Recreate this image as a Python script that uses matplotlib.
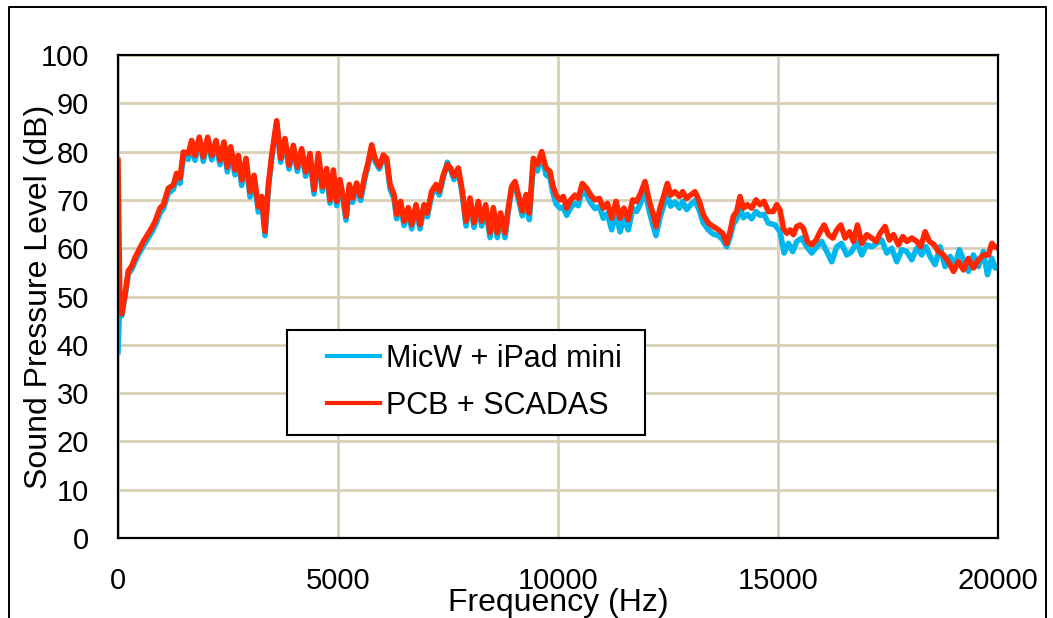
import matplotlib
matplotlib.use("Agg")
import matplotlib.pyplot as plt
from matplotlib.lines import Line2D
from matplotlib.patches import Rectangle

plt.rcParams['font.family'] = ['Liberation Sans', 'DejaVu Sans']

# ---------------- data ----------------
series_names = ["MicW + iPad mini", "PCB + SCADAS"]

pcb_freq = [0, 40, 83, 159, 235, 311, 386, 462, 576, 652,
            765, 841, 955, 1030, 1144, 1258, 1333, 1409, 1485, 1598,
            1674, 1750, 1848, 1939, 2038, 2129, 2227, 2318, 2409, 2485,
            2561, 2659, 2735, 2811, 2909, 3000, 3091, 3190, 3265, 3341,
            3417, 3493, 3606, 3697, 3795, 3886, 3985, 4076, 4174, 4265,
            4364, 4455, 4553, 4644, 4742, 4818,
            4894, 4970, 5045, 5121, 5182, 5258, 5333, 5424, 5515, 5614,
            5689, 5765, 5841, 5939, 6030, 6106, 6182, 6273, 6333, 6424,
            6500, 6598, 6674, 6773, 6864, 6955, 7030, 7129, 7227, 7303,
            7394, 7485, 7561, 7636, 7735, 7826, 7909, 8000, 8091, 8189,
            8265, 8356, 8455, 8530, 8621, 8697, 8795, 8871, 8947, 9023,
            9098, 9189, 9273, 9348, 9439, 9530, 9629, 9727, 9818,
            9879, 9955, 10045, 10121, 10197, 10288, 10386, 10462, 10553, 10652,
            10742, 10841, 10939, 11030, 11121, 11220, 11318, 11409, 11500, 11598,
            11697, 11788, 11879, 11977, 12076, 12167, 12227, 12318, 12409, 12485,
            12561, 12659, 12758, 12833, 12924, 13015, 13114, 13212, 13303, 13417,
            13530, 13644, 13742, 13833, 13909, 13985, 14061, 14136, 14212, 14303,
            14402, 14500, 14591, 14682, 14780,
            14894, 14971, 15047, 15123, 15199, 15275, 15350, 15426, 15502, 15578,
            15669, 15767, 15866, 15957, 16048, 16146, 16245, 16336, 16427, 16525,
            16624, 16715, 16805, 16904, 17018, 17131, 17230, 17321, 17434, 17533,
            17624, 17737, 17836, 17927, 18040, 18154, 18245, 18344, 18442, 18548,
            18647, 18760, 18874, 18988, 19101, 19215, 19329, 19442, 19556, 19670,
            19783, 19859, 19935, 20000]

pcb_spl = [78.2, 50.0, 46.4, 50.5, 55.3, 56.3, 58.0, 59.4, 61.4, 62.5,
           64.2, 65.5, 68.3, 69.0, 72.4, 73.1, 75.5, 74.5, 79.9, 79.6,
           82.3, 79.2, 83.0, 78.9, 83.0, 79.2, 82.3, 78.2, 82.0, 76.8,
           81.0, 76.2, 79.2, 74.1, 78.6, 71.7, 75.1, 68.6, 70.7, 63.5,
           73.1, 79.2, 86.4, 78.6, 82.7, 77.2, 81.3, 76.8, 80.6, 75.8,
           79.6, 72.1, 79.6, 72.7, 76.5, 70.0,
           76.2, 69.7, 74.2, 70.4, 66.6, 73.2, 70.4, 73.5, 70.8, 75.2,
           77.9, 81.4, 78.6, 76.9, 79.3, 78.6, 73.2, 71.1, 67.0, 69.7,
           65.6, 68.4, 64.9, 69.0, 64.9, 69.0, 67.3, 71.8, 73.2, 71.8,
           75.2, 77.3, 76.6, 74.9, 76.6, 71.8, 65.6, 70.4, 65.3, 69.7,
           65.6, 69.0, 63.2, 68.4, 63.2, 67.3, 63.2, 68.4, 72.8, 73.8,
           71.1, 67.7, 71.1, 67.3, 78.6, 77.3, 80.0, 76.6, 75.9,
           73.1, 71.0, 70.0, 70.7, 68.3, 70.0, 71.0, 70.3, 73.4, 72.4,
           71.0, 70.0, 70.3, 68.3, 69.3, 66.2, 69.7, 66.2, 68.3, 65.9,
           70.0, 69.7, 71.4, 73.8, 69.7, 66.9, 64.5, 68.3, 71.0, 73.4,
           71.0, 71.7, 70.7, 71.7, 70.3, 71.0, 71.7, 69.7, 66.9, 65.2,
           64.5, 63.8, 63.1, 61.0, 63.4, 66.6, 67.6, 70.7, 68.3, 69.0,
           68.3, 70.0, 69.0, 69.7, 67.6,
           67.6, 69.0, 67.9, 64.1, 63.1, 63.8, 62.8, 64.5, 64.8, 64.1,
           61.4, 60.7, 61.7, 63.4, 64.8, 62.8, 62.1, 63.8, 64.8, 62.1,
           63.4, 61.4, 64.8, 61.0, 62.8, 62.1, 61.4, 63.1, 64.5, 61.7,
           62.8, 60.7, 62.4, 61.4, 62.1, 61.4, 60.3, 63.4, 61.4, 60.7,
           59.3, 58.6, 57.2, 55.2, 57.2, 55.5, 57.9, 55.9, 57.6, 58.6,
           58.6, 61.0, 60.3, 60.0]

micw_freq = [0, 40, 83, 159, 235, 311, 386, 462, 576, 652,
             765, 841, 955, 1030, 1144, 1258, 1333, 1409, 1485, 1598,
             1674, 1750, 1848, 1939, 2038, 2129, 2227, 2318, 2409, 2485,
             2561, 2659, 2735, 2811, 2909, 3000, 3091, 3190, 3265, 3341,
             3417, 3493, 3606, 3697, 3795, 3886, 3985, 4076, 4174, 4265,
             4364, 4455, 4553, 4644, 4742, 4818,
             4894, 4970, 5045, 5121, 5182, 5258, 5333, 5424, 5515, 5614,
             5689, 5765, 5841, 5939, 6030, 6106, 6182, 6273, 6333, 6424,
             6500, 6598, 6674, 6773, 6864, 6955, 7030, 7129, 7227, 7303,
             7394, 7485, 7561, 7636, 7735, 7826, 7909, 8000, 8091, 8189,
             8265, 8356, 8455, 8530, 8621, 8697, 8795, 8871, 8947, 9023,
             9098, 9189, 9273, 9348, 9439, 9530, 9629, 9727, 9818,
             9879, 9955, 10045, 10121, 10197, 10288, 10386, 10462, 10553, 10652,
             10742, 10841, 10939, 11030, 11121, 11220, 11318, 11409, 11500, 11598,
             11697, 11788, 11879, 11977, 12076, 12167, 12227, 12318, 12409, 12485,
             12561, 12659, 12758, 12833, 12924, 13015, 13114, 13212, 13303, 13417,
             13530, 13644, 13742, 13833, 13909, 13985, 14061, 14136, 14212, 14303,
             14402, 14500, 14591, 14682, 14780,
             14934, 15047, 15138, 15237, 15335, 15426, 15540, 15653, 15767, 15881,
             15994, 16108, 16222, 16335, 16449, 16562, 16676, 16790, 16903, 17017,
             17131, 17244, 17358, 17472, 17585, 17699, 17813, 17926, 18040, 18153,
             18267, 18366, 18456, 18570, 18684, 18797, 18911, 19025, 19123, 19214,
             19328, 19441, 19555, 19669, 19760, 19858, 19934, 20000]

micw_spl = [38.5, 49.5, 46.0, 50.0, 54.7, 55.6, 57.2, 58.6, 60.5, 61.6,
            63.3, 64.6, 67.2, 68.2, 71.4, 72.2, 74.6, 73.4, 78.8, 78.4,
            81.5, 78.2, 82.2, 78.0, 82.2, 78.3, 81.5, 77.3, 81.2, 75.8,
            80.2, 75.2, 78.4, 73.0, 77.8, 70.6, 74.2, 67.5, 69.8, 62.6,
            72.3, 78.5, 85.9, 77.8, 82.1, 76.4, 80.7, 75.9, 79.9, 74.9,
            78.9, 71.2, 78.9, 71.8, 75.8, 69.3,
            75.6, 68.8, 73.5, 69.5, 65.8, 72.5, 69.5, 72.8, 69.9, 74.6,
            77.3, 80.9, 78.0, 76.4, 78.8, 78.0, 72.3, 70.2, 66.1, 68.9,
            64.7, 67.6, 64.0, 68.2, 64.0, 68.2, 66.5, 71.0, 72.6, 71.0,
            74.6, 77.8, 76.2, 74.2, 76.0, 71.0, 64.6, 69.6, 64.3, 68.9,
            64.6, 68.2, 62.2, 67.6, 62.2, 66.7, 62.2, 67.7, 72.2, 73.1,
            70.2, 66.7, 70.3, 65.9, 77.6, 76.0, 79.3, 75.2, 74.6,
            71.6, 69.2, 68.3, 68.5, 66.8, 68.4, 69.3, 68.8, 72.0, 71.0,
            69.4, 68.2, 68.6, 66.2, 67.2, 63.8, 67.5, 63.4, 66.0, 63.8,
            68.2, 67.6, 69.4, 71.8, 67.6, 64.5, 62.6, 66.4, 69.0, 71.0,
            68.7, 69.6, 68.3, 69.7, 68.0, 69.0, 69.9, 67.8, 65.2, 63.8,
            62.9, 62.6, 61.8, 60.3, 62.2, 65.0, 66.0, 68.6, 66.3, 67.0,
            66.1, 67.6, 66.8, 67.0, 65.2,
            64.8, 63.4, 59.0, 61.0, 59.3, 61.4, 62.1, 60.3, 59.0, 60.3,
            61.4, 59.3, 57.2, 60.3, 61.0, 58.6, 59.3, 61.4, 58.6, 60.7,
            60.3, 61.0, 61.7, 59.0, 60.0, 57.2, 59.7, 59.3, 57.6, 60.0,
            58.6, 60.3, 58.3, 56.6, 60.3, 56.2, 58.3, 56.6, 59.7, 57.6,
            55.2, 58.6, 56.2, 59.3, 54.5, 57.9, 55.9, 56.2]

x_ticks = [0, 5000, 10000, 15000, 20000]
y_ticks = [0, 10, 20, 30, 40, 50, 60, 70, 80, 90, 100]
x_label = "Frequency (Hz)"
y_label = "Sound Pressure Level (dB)"

# ---------------- styling ----------------
BLUE = "#00B6EE"
RED = "#FF2600"
GRID = "#D8D0B6"

W, H = 1053, 618
fig = plt.figure(figsize=(W / 100, H / 100), dpi=100)
ax = fig.add_axes([118 / W, 1 - 538 / H, 880 / W, 483 / H])

ax.plot(micw_freq, micw_spl, color=BLUE, lw=4.0, solid_joinstyle='round',
        zorder=3, label=series_names[0])
ax.plot(pcb_freq, pcb_spl, color=RED, lw=4.0, solid_joinstyle='round',
        zorder=4, label=series_names[1])

ax.set_xlim(0, 20000)
ax.set_ylim(0, 100)
ax.set_xticks(x_ticks)
ax.set_yticks(y_ticks)
ax.tick_params(axis='both', length=0, labelsize=21, pad=21)
ax.grid(True, color=GRID, lw=2.0, zorder=1)
ax.set_axisbelow(True)
for s in ax.spines.values():
    s.set_color('black')
    s.set_linewidth(1.6)
    s.set_zorder(5)

ax.set_xlabel(x_label, fontsize=23, labelpad=-5)
ax.set_ylabel(y_label, fontsize=23)
ax.yaxis.set_label_coords(-0.0725, 0.5)

# legend box
x0 = (287 - 118) / 880
y0 = (538 - 435) / 483
ax.add_patch(Rectangle((x0, y0), (645 - 287) / 880, (435 - 330) / 483,
                       transform=ax.transAxes, facecolor='white',
                       edgecolor='black', lw=1.5, zorder=6))
leg = ax.legend(loc='center left',
                bbox_to_anchor=((327 - 118) / 880, (538 - 382.5) / 483),
                frameon=False, fontsize=22, handlelength=1.75,
                handletextpad=0.18, labelspacing=0.55, borderpad=0,
                borderaxespad=0)
leg.set_zorder(7)
for h in leg.get_lines():
    h.set_linewidth(3.0)

# outer figure border (cut off at the bottom)
bx0, bx1, by1 = 8.5 / W, 1045.5 / W, 1 - 6.5 / H
fig.add_artist(Line2D([bx0, bx0, bx1, bx1], [-0.05, by1, by1, -0.05],
                      transform=fig.transFigure, color='black', lw=1.4))

fig.savefig("out.png", dpi=100)
